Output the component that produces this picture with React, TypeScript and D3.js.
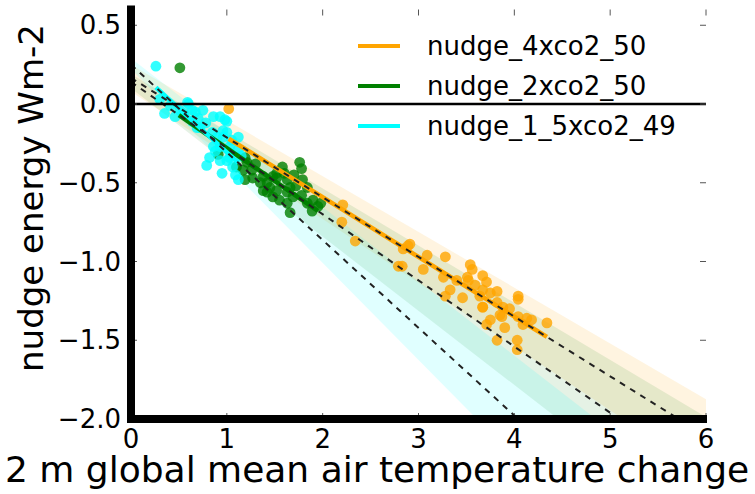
import React from "react";
import * as d3 from "d3";

// series order: 4xco2, 2xco2, 1.5xco2
const seriesNames = ["nudge_4xco2_50", "nudge_2xco2_50", "nudge_1_5xco2_49"];

const orangeX = [1.02, 2.21, 2.2, 2.34, 2.89, 2.84, 2.79, 3.05, 3.09, 2.91, 3.28, 3.26, 3.33, 3.28, 3.46, 3.54, 3.56, 3.51, 3.52, 3.67, 3.71, 3.67, 3.59, 3.64, 3.67, 3.82, 3.75, 3.82, 3.88, 3.67, 3.85, 3.87, 4.04, 4.04, 4.04, 4.13, 4.18, 4.09, 4.34, 3.75, 3.71, 3.82, 4.03, 4.03, 2.83, 3.95, 3.4, 3.9];
const orangeY = [-0.03, -0.64, -0.75, -0.87, -0.9, -0.92, -1.03, -1.05, -0.96, -0.89, -0.97, -1.1, -1.18, -1.22, -1.23, -1.02, -1.05, -1.1, -1.12, -1.09, -1.13, -1.18, -1.15, -1.22, -1.29, -1.19, -1.2, -1.26, -1.29, -1.29, -1.34, -1.35, -1.22, -1.24, -1.35, -1.36, -1.37, -1.4, -1.39, -1.37, -1.4, -1.5, -1.5, -1.56, -1.03, -1.3, -1.12, -1.42];

const greenX = [0.51, 0.91, 1.19, 1.21, 1.17, 1.26, 1.19, 1.27, 1.38, 1.42, 1.48, 1.52, 1.58, 1.63, 1.66, 1.52, 1.55, 1.63, 1.69, 1.66, 1.76, 1.78, 1.79, 1.84, 1.78, 1.84, 1.89, 1.9, 1.95, 1.52, 1.38, 1.42, 1.48, 1.63, 1.1, 1.3, 1.72, 1.6, 1.45, 1.35, 1.98, 1.7];
const greenY = [0.23, -0.32, -0.34, -0.37, -0.42, -0.42, -0.48, -0.47, -0.55, -0.5, -0.46, -0.47, -0.4, -0.48, -0.53, -0.55, -0.61, -0.63, -0.59, -0.69, -0.37, -0.41, -0.48, -0.53, -0.58, -0.63, -0.68, -0.61, -0.65, -0.44, -0.46, -0.56, -0.59, -0.56, -0.4, -0.38, -0.52, -0.44, -0.53, -0.5, -0.63, -0.45];

const cyanX = [0.26, 0.35, 0.46, 0.41, 0.59, 0.64, 0.67, 0.75, 0.64, 0.72, 0.69, 0.86, 0.93, 0.98, 1.0, 0.96, 1.0, 0.9, 0.96, 1.12, 0.86, 0.93, 1.03, 1.12, 0.82, 0.79, 0.93, 1.0, 1.06, 0.95, 1.09, 1.12, 1.03, 0.51, 0.55, 0.78, 0.85, 0.7, 1.05, 0.88, 1.15, 0.6, 0.3];
const cyanY = [0.24, -0.06, -0.08, -0.01, 0.01, -0.04, -0.05, -0.04, -0.11, -0.15, -0.15, -0.08, -0.08, -0.1, -0.11, -0.17, -0.18, -0.21, -0.21, -0.21, -0.27, -0.27, -0.27, -0.29, -0.34, -0.39, -0.36, -0.36, -0.4, -0.44, -0.45, -0.48, -0.34, -0.04, -0.06, -0.12, -0.18, -0.09, -0.23, -0.3, -0.33, 0.0, 0.03];

// regression fits (intercept, slope) and x range of each data set
const fitIntercept = [0.166, 0.14, 0.25];
const fitSlope = [-0.379, -0.42, -0.557];
const fitXMin = [1.02, 0.5, 0.26];
const fitXMax = [4.34, 1.95, 1.12];

// uncertainty band edges
const bandHiIntercept = [0.25, 0.19, 0.29];
const bandHiSlope = [-0.354, -0.363, -0.472];
const bandLoIntercept = [0.08, 0.1, 0.223];
const bandLoSlope = [-0.405, -0.471, -0.616];

const xTicks = [0, 1, 2, 3, 4, 5, 6];
const yTicks = [0.5, 0.0, -0.5, -1.0, -1.5, -2.0];

const colors = ["#FFA500", "#008000", "#00FFFF"];
const bandOpacity = [0.12, 0.1, 0.12];

export default function App() {
  const width = 755,
    height = 494;
  const left = 131,
    right = 706,
    top = 9.5,
    bottom = 419;

  const x = d3.scaleLinear().domain([0, 6]).range([left, right]);
  const y = d3.scaleLinear().domain([-2, 0.6]).range([bottom, top]);

  const series = [
    { xs: orangeX, ys: orangeY },
    { xs: greenX, ys: greenY },
    { xs: cyanX, ys: cyanY },
  ];

  const band = d3
    .area<number>()
    .x(d => x(d));

  const line = d3
    .line<number>()
    .x(d => x(d));

  const fmt = d3.format(".1f");
  const font = "DejaVu Sans";

  return (
    <svg width={width} height={height} style={{ position: "absolute", left: 0, top: 0 }} fontFamily={font}>
      <defs>
        <clipPath id="plot">
          <rect x={left} y={top} width={right - left} height={bottom - top} />
        </clipPath>
      </defs>
      <rect width={width} height={height} fill="#fff" />
      <g clipPath="url(#plot)">
        {series.map((s, i) => (
          <path
            key={"band" + i}
            d={
              band
                .y0(d => y(bandLoIntercept[i] + bandLoSlope[i] * d))
                .y1(d => y(bandHiIntercept[i] + bandHiSlope[i] * d))([0, 6]) || ""
            }
            fill={colors[i]}
            fillOpacity={bandOpacity[i]}
          />
        ))}
        {series.map((s, i) => (
          <g key={"pts" + i}>
            {s.xs.map((v, j) => (
              <circle key={j} cx={x(v)} cy={y(s.ys[j])} r={5.4} fill={colors[i]} fillOpacity={0.8} />
            ))}
          </g>
        ))}
        {series.map((s, i) => (
          <path
            key={"fit" + i}
            d={line.y(d => y(fitIntercept[i] + fitSlope[i] * d))([fitXMin[i], fitXMax[i]]) || ""}
            stroke={colors[i]}
            strokeWidth={4.5}
            fill="none"
          />
        ))}
        {series.map((s, i) => (
          <path
            key={"dash" + i}
            d={line.y(d => y(fitIntercept[i] + fitSlope[i] * d))([0, 6]) || ""}
            stroke="#222"
            strokeWidth={2}
            strokeDasharray="6,6"
            fill="none"
          />
        ))}
      </g>
      {/* zero line */}
      <line x1={left} x2={right} y1={y(0)} y2={y(0)} stroke="#000" strokeWidth={2.5} />

      {/* inward ticks on all four sides */}
      {xTicks.map(t => (
        <g key={"xt" + t} stroke="#555" strokeWidth={1}>
          <line x1={x(t)} x2={x(t)} y1={bottom} y2={bottom - 6} />
          <line x1={x(t)} x2={x(t)} y1={top} y2={top + 6} />
        </g>
      ))}
      {yTicks.map(t => (
        <g key={"yt" + t} stroke="#555" strokeWidth={1}>
          <line x1={left} x2={left + 6} y1={y(t)} y2={y(t)} />
          <line x1={right} x2={right - 6} y1={y(t)} y2={y(t)} />
        </g>
      ))}

      {/* thick spines */}
      <line x1={left} x2={left} y1={top - 4} y2={bottom + 4} stroke="#000" strokeWidth={8} />
      <line x1={left - 4} x2={right + 1} y1={bottom} y2={bottom} stroke="#000" strokeWidth={8} />

      {/* tick labels */}
      {xTicks.map(t => (
        <text key={"xl" + t} x={x(t)} y={448} textAnchor="middle" fontSize={26} fill="#000">
          {t}
        </text>
      ))}
      {yTicks.map(t => (
        <text key={"yl" + t} x={121} y={y(t) + 9} textAnchor="end" fontSize={26} fill="#000">
          {fmt(t).replace("-", "\u2212")}
        </text>
      ))}

      {/* axis labels */}
      <text x={5} y={482} fontSize={36} fill="#000">
        2 m global mean air temperature change
      </text>
      <text transform="translate(43,198) rotate(-90)" textAnchor="middle" fontSize={34} fill="#000">
        nudge energy Wm-2
      </text>

      {/* legend */}
      {seriesNames.map((n, i) => (
        <g key={"lg" + i}>
          <line x1={358} x2={400} y1={46 + 40 * i} y2={46 + 40 * i} stroke={colors[i]} strokeWidth={4} />
          <text x={427} y={46 + 40 * i + 9} fontSize={26} fill="#000">
            {n}
          </text>
        </g>
      ))}
    </svg>
  );
}
